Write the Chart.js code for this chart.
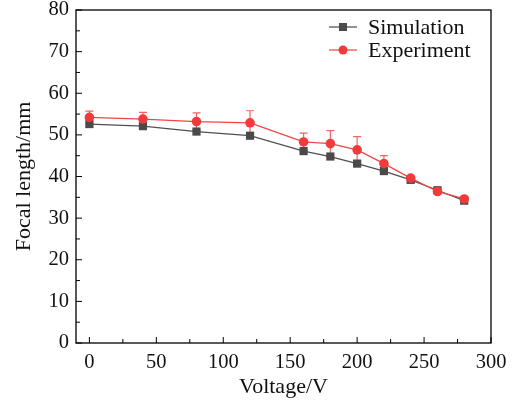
<!DOCTYPE html>
<html>
<head>
<meta charset="utf-8">
<script src="https://cdn.jsdelivr.net/npm/chart.js@4/dist/chart.umd.min.js"></script>
<style>
  html, body { margin: 0; padding: 0; background: #fff; }
  #wrap { width: 517px; height: 400px; }
</style>
</head>
<body>
<div id="wrap"><canvas id="chart"></canvas></div>
<script>
// --- data ---
const voltage = [0, 40, 80, 120, 160, 180, 200, 220, 240, 260, 280];
const simulation = [52.6, 52.1, 50.8, 49.8, 46.1, 44.8, 43.1, 41.3, 39.2, 36.7, 34.2];
const experiment = [54.2, 53.8, 53.2, 52.9, 48.3, 47.9, 46.4, 43.1, 39.6, 36.4, 34.6];
const experimentErr = [1.5, 1.6, 2.1, 2.9, 2.1, 3.1, 3.2, 1.9, 0.4, 0.3, 0.3];
const xTickLabels = [0, 50, 100, 150, 200, 250, 300];
const yTickLabels = [0, 10, 20, 30, 40, 50, 60, 70, 80];

const FONT = 'Liberation Serif';
const GRAY = '#4a4a4a';
const RED = '#ef3b3b';

// --- frame, inward ticks, error bars, legend ---
const decor = {
    id: 'decor',
    beforeDatasetsDraw(chart) {
        const ctx = chart.ctx;
        const xs = chart.scales.x, ys = chart.scales.y;
        ctx.save();
        ctx.strokeStyle = '#f26464';
        ctx.lineWidth = 1.2;
        experiment.forEach((v, i) => {
            const e = experimentErr[i];
            const px = xs.getPixelForValue(voltage[i]);
            const top = ys.getPixelForValue(v + e);
            const bot = ys.getPixelForValue(v - e);
            ctx.beginPath();
            ctx.moveTo(px, top); ctx.lineTo(px, bot);
            ctx.moveTo(px - 4, top); ctx.lineTo(px + 4, top);
            ctx.moveTo(px - 4, bot); ctx.lineTo(px + 4, bot);
            ctx.stroke();
        });
        ctx.restore();
    },
    afterDraw(chart) {
        const ctx = chart.ctx;
        const a = chart.chartArea;
        const xs = chart.scales.x, ys = chart.scales.y;
        ctx.save();
        ctx.strokeStyle = '#000';
        ctx.lineWidth = 1.3;
        ctx.strokeRect(a.left, a.top, a.right - a.left, a.bottom - a.top);

        ctx.lineWidth = 1;
        ctx.beginPath();
        xTickLabels.forEach((v, i) => {
            const px = xs.getPixelForValue(v);
            ctx.moveTo(px, a.bottom); ctx.lineTo(px, a.bottom - 6);
            if (i < xTickLabels.length - 1) {
                const m = xs.getPixelForValue((v + xTickLabels[i + 1]) / 2);
                ctx.moveTo(m, a.bottom); ctx.lineTo(m, a.bottom - 4);
            }
        });
        yTickLabels.forEach((v, i) => {
            const py = ys.getPixelForValue(v);
            ctx.moveTo(a.left, py); ctx.lineTo(a.left + 6, py);
            if (i < yTickLabels.length - 1) {
                const m = ys.getPixelForValue((v + yTickLabels[i + 1]) / 2);
                ctx.moveTo(a.left, m); ctx.lineTo(a.left + 4, m);
            }
        });
        ctx.stroke();

        // legend
        const lx = a.right - 162, items = [
            { label: 'Simulation', color: '#555', fill: GRAY, shape: 'rect', y: a.top + 17 },
            { label: 'Experiment', color: '#f05050', fill: RED, shape: 'circle', y: a.top + 40 }
        ];
        items.forEach(it => {
            ctx.strokeStyle = it.color;
            ctx.lineWidth = 1.3;
            ctx.beginPath();
            ctx.moveTo(lx, it.y); ctx.lineTo(lx + 28, it.y);
            ctx.stroke();
            ctx.fillStyle = it.fill;
            if (it.shape === 'rect') {
                ctx.fillRect(lx + 14 - 4, it.y - 4, 8, 8);
            } else {
                ctx.beginPath();
                ctx.arc(lx + 14, it.y, 4.5, 0, Math.PI * 2);
                ctx.fill();
            }
            ctx.fillStyle = '#111';
            ctx.font = '22px "' + FONT + '"';
            ctx.textBaseline = 'middle';
            ctx.textAlign = 'left';
            ctx.fillText(it.label, lx + 39, it.y + 1);
        });
        ctx.restore();
    }
};

const ctx = document.getElementById('chart').getContext('2d');
new Chart(ctx, {
    type: 'line',
    data: {
        datasets: [{
            label: 'Experiment',
            data: voltage.map((v, i) => ({ x: v, y: experiment[i] })),
            borderColor: '#f04545',
            backgroundColor: RED,
            borderWidth: 1.3,
            pointStyle: 'circle',
            pointRadius: 4.8,
            pointBorderWidth: 0,
            order: 0
        }, {
            label: 'Simulation',
            data: voltage.map((v, i) => ({ x: v, y: simulation[i] })),
            borderColor: '#505050',
            backgroundColor: GRAY,
            borderWidth: 1.3,
            pointStyle: 'rect',
            pointRadius: 5.8,
            pointBorderWidth: 0,
            order: 1
        }]
    },
    options: {
        responsive: true,
        maintainAspectRatio: false,
        animation: false,
        layout: { padding: { top: 10, right: 26, left: 0, bottom: 0 } },
        plugins: { legend: { display: false }, tooltip: { enabled: false } },
        scales: {
            x: {
                type: 'linear',
                min: -10, max: 300,
                afterBuildTicks: s => { s.ticks = xTickLabels.map(v => ({ value: v })); },
                afterFit: s => { s.height = 57; s.paddingLeft = 0; s.paddingRight = 0; },
                grid: { display: false, drawTicks: false },
                border: { display: false },
                ticks: { color: '#111', padding: 7, maxRotation: 0, font: { family: FONT, size: 20.5 } },
                title: { display: true, text: 'Voltage/V', color: '#111', padding: { top: 0, bottom: 0 }, font: { family: FONT, size: 22 } }
            },
            y: {
                type: 'linear',
                min: 0, max: 80,
                afterBuildTicks: s => { s.ticks = yTickLabels.map(v => ({ value: v })); },
                afterFit: s => { s.width = 76; s.paddingTop = 0; s.paddingBottom = 0; },
                grid: { display: false, drawTicks: false },
                border: { display: false },
                ticks: { color: '#111', padding: 7, font: { family: FONT, size: 20.5 } },
                title: { display: true, text: 'Focal length/mm', color: '#111', padding: { top: 11, bottom: 0 }, font: { family: FONT, size: 22 } }
            }
        }
    },
    plugins: [decor]
});
</script>
</body>
</html>
